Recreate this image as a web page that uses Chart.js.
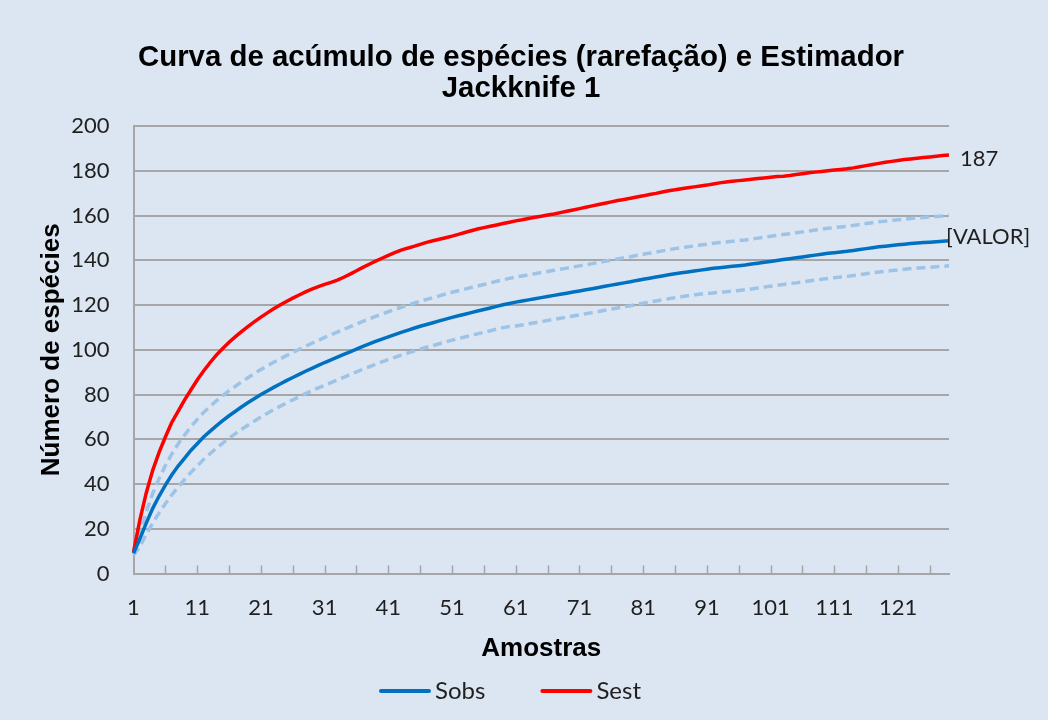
<!DOCTYPE html>
<html>
<head>
<meta charset="utf-8">
<title>Curva de acúmulo de espécies - Jackknife 1</title>
<script src="https://cdn.jsdelivr.net/npm/chart.js@4.4.1/dist/chart.umd.min.js"></script>
<style>
  html, body { margin: 0; padding: 0; background: #dce6f2; }
  canvas { display: block; }
</style>
</head>
<body>
<canvas id="myChart" width="1048" height="720"></canvas>
<script>
// Riqueza observada (Sobs, rarefação) por número de amostras
const sobs = [
  9, 15.5, 22.5, 29, 34.5, 39.5, 44, 48, 51.5, 55,
  58, 61, 63.5, 66, 68.3, 70.5, 72.5, 74.5, 76.4, 78.2,
  80, 81.6, 83.2, 84.7, 86.2, 87.6, 89, 90.4, 91.7, 93,
  94.3, 95.5, 96.7, 97.9, 99.1, 100.3, 101.5, 102.6, 103.7, 104.8,
  105.8, 106.8, 107.8, 108.7, 109.6, 110.5, 111.3, 112.1, 112.9, 113.7,
  114.5, 115.2, 115.9, 116.6, 117.3, 118, 118.7, 119.4, 120.1, 120.7,
  121.3, 121.8, 122.3, 122.8, 123.3, 123.8, 124.3, 124.8, 125.3, 125.8,
  126.3, 126.8, 127.3, 127.8, 128.4, 128.9, 129.4, 129.9, 130.4, 131,
  131.5, 132, 132.5, 133, 133.5, 134, 134.4, 134.8, 135.2, 135.6,
  136, 136.4, 136.7, 137, 137.3, 137.6, 137.9, 138.3, 138.7, 139.1,
  139.5, 139.9, 140.3, 140.7, 141.1, 141.5, 141.9, 142.3, 142.7, 143.1,
  143.4, 143.7, 144, 144.4, 144.8, 145.2, 145.6, 146, 146.3, 146.6,
  146.9, 147.2, 147.5, 147.7, 147.9, 148.1, 148.3, 148.5, 148.7
];

// Riqueza estimada (Jackknife 1)
const sest = [
  9.5, 24, 36, 46, 54, 61, 67.5, 72.5, 77.5, 82,
  86.5, 90.5, 94.2, 97.6, 100.6, 103.4, 105.9, 108.2, 110.5, 112.6,
  114.6, 116.5, 118.3, 120, 121.6, 123.1, 124.5, 125.9, 127.1, 128.2,
  129.2, 130.1, 131.1, 132.4, 133.8, 135.3, 136.8, 138.2, 139.6, 140.9,
  142.2, 143.4, 144.5, 145.4, 146.2, 147.1, 148, 148.7, 149.4, 150.1,
  150.8, 151.6, 152.4, 153.2, 154, 154.6, 155.2, 155.8, 156.4, 157,
  157.6, 158.1, 158.7, 159.2, 159.7, 160.2, 160.7, 161.3, 161.9, 162.5,
  163.1, 163.7, 164.3, 164.9, 165.5, 166.1, 166.7, 167.2, 167.7, 168.3,
  168.8, 169.4, 169.9, 170.5, 171.1, 171.5, 172, 172.4, 172.8, 173.2,
  173.6, 174.1, 174.6, 175, 175.3, 175.6, 175.9, 176.2, 176.5, 176.8,
  177.1, 177.4, 177.6, 177.9, 178.3, 178.7, 179.1, 179.4, 179.7, 180,
  180.3, 180.6, 180.9, 181.3, 181.8, 182.3, 182.8, 183.3, 183.8, 184.2,
  184.6, 185, 185.3, 185.6, 185.9, 186.2, 186.5, 186.8, 187
];

// Intervalo de confiança 95% de Sobs
const sobsSup = [
  10, 18.3, 27.5, 35.7, 42.3, 48.2, 53.4, 57.9, 61.8, 65.6,
  68.8, 72, 74.6, 77.2, 79.5, 81.7, 83.7, 85.7, 87.6, 89.4,
  91.2, 92.8, 94.4, 95.9, 97.4, 98.8, 100.2, 101.6, 102.9, 104.2,
  105.5, 106.7, 107.9, 109.1, 110.3, 111.5, 112.7, 113.8, 114.9, 116,
  117, 118, 119, 119.9, 120.8, 121.7, 122.5, 123.3, 124.1, 124.9,
  125.7, 126.4, 127.1, 127.8, 128.5, 129.2, 129.9, 130.6, 131.3, 131.9,
  132.5, 133, 133.5, 134, 134.5, 135, 135.5, 136, 136.5, 137,
  137.5, 138, 138.5, 139, 139.6, 140.1, 140.6, 141.1, 141.6, 142.2,
  142.7, 143.2, 143.7, 144.2, 144.7, 145.2, 145.6, 146, 146.4, 146.8,
  147.2, 147.6, 147.9, 148.2, 148.5, 148.8, 149.1, 149.5, 149.9, 150.3,
  150.7, 151.1, 151.5, 151.9, 152.3, 152.7, 153.1, 153.5, 153.9, 154.3,
  154.6, 154.9, 155.2, 155.6, 156, 156.4, 156.8, 157.2, 157.5, 157.8,
  158.1, 158.4, 158.7, 158.9, 159.1, 159.4, 159.6, 159.8, 160
];

const sobsInf = [
  8, 12, 17.5, 22.5, 27, 31.2, 35.1, 38.7, 41.9, 45.2,
  48, 51, 53.5, 56, 58.3, 60.5, 62.5, 64.5, 66.4, 68.2,
  70, 71.6, 73.2, 74.7, 76.2, 77.6, 79, 80.4, 81.7, 83,
  84.1, 85.3, 86.5, 87.7, 88.9, 90.1, 91.3, 92.4, 93.5, 94.6,
  95.6, 96.6, 97.6, 98.5, 99.4, 100.3, 101.1, 101.9, 102.7, 103.5,
  104.3, 105, 105.7, 106.4, 107.1, 107.8, 108.5, 109.2, 109.9, 110.4,
  110.6, 111.1, 111.6, 112.1, 112.6, 113.1, 113.6, 114.1, 114.6, 115.1,
  115.6, 116.1, 116.6, 117.1, 117.7, 118.2, 118.7, 119.2, 119.7, 120.3,
  120.8, 121.3, 121.8, 122.3, 122.8, 123.3, 123.7, 124.1, 124.5, 124.9,
  125.1, 125.4, 125.7, 125.9, 126.2, 126.5, 126.8, 127.2, 127.6, 128,
  128.4, 128.8, 129.2, 129.6, 129.9, 130.3, 130.7, 131.1, 131.5, 131.9,
  132.2, 132.5, 132.8, 133.2, 133.6, 134, 134.4, 134.8, 135.1, 135.4,
  135.7, 136, 136.3, 136.5, 136.7, 136.9, 137.1, 137.3, 137.5
];

// amostras 1..n (rótulo a cada 10, marca a cada 5)
const amostras = sobs.map((_, i) => String(i + 1));
const yMin = 0, yMax = 200, yStep = 20;

const textColor = '#1f1f1f';
const gridColor = '#a6a6a6';
const tickFont = { family: 'Lato, sans-serif', size: 22 };
const boldFont = { family: '"Liberation Sans", Arial, sans-serif', size: 26, weight: 'bold', lineHeight: 1.2 };

// marcas do eixo x voltadas para dentro do gráfico
const xTickMarks = {
  id: 'xTickMarks',
  afterDraw(chart) {
    const x = chart.scales.x;
    const ctx = chart.ctx;
    const bottom = chart.chartArea.bottom;
    ctx.save();
    ctx.strokeStyle = gridColor;
    ctx.lineWidth = 1.5;
    for (let i = 5; i < amostras.length; i += 5) {
      const px = Math.round(x.getPixelForValue(i)) + 0.5;
      ctx.beginPath();
      ctx.moveTo(px, bottom);
      ctx.lineTo(px, bottom - 8);
      ctx.stroke();
    }
    ctx.restore();
  }
};

// rótulos no último ponto das séries
const endLabels = {
  id: 'endLabels',
  afterDatasetsDraw(chart) {
    const ctx = chart.ctx;
    ctx.save();
    ctx.font = '22px Lato, sans-serif';
    ctx.fillStyle = textColor;
    ctx.textAlign = 'left';
    ctx.textBaseline = 'middle';

    const estPts = chart.getDatasetMeta(1).data;
    const p = estPts[estPts.length - 1];
    ctx.fillText(String(Math.round(sest[sest.length - 1])), p.x + 11, p.y + 4);

    const obsPts = chart.getDatasetMeta(0).data;
    const q = obsPts[obsPts.length - 1];
    ctx.fillText('[VALOR]', q.x - 3, q.y - 4);
    ctx.restore();
  }
};

// legenda só com Sobs e Sest
const bottomLegend = {
  id: 'bottomLegend',
  afterDraw(chart) {
    const ctx = chart.ctx;
    const items = [chart.data.datasets[0], chart.data.datasets[1]];
    const lineLen = 52, textGap = 4, itemGap = 55, y = 691;
    ctx.save();
    ctx.font = '24px Lato, sans-serif';
    ctx.textBaseline = 'middle';
    ctx.textAlign = 'left';
    const widths = items.map(ds => lineLen + textGap + ctx.measureText(ds.label).width);
    const total = widths.reduce((a, b) => a + b, 0) + itemGap * (items.length - 1);
    let x = 510 - total / 2;
    items.forEach((ds, i) => {
      ctx.strokeStyle = ds.borderColor;
      ctx.lineWidth = 4;
      ctx.lineCap = 'round';
      ctx.beginPath();
      ctx.moveTo(x + 2, y);
      ctx.lineTo(x + lineLen - 2, y);
      ctx.stroke();
      ctx.fillStyle = textColor;
      ctx.fillText(ds.label, x + lineLen + textGap, y);
      x += widths[i] + itemGap;
    });
    ctx.restore();
  }
};

const ctx = document.getElementById('myChart').getContext('2d');

new Chart(ctx, {
  type: 'line',
  data: {
    labels: amostras,
    datasets: [
      { label: 'Sobs', data: sobs, borderColor: '#0070c0', backgroundColor: '#0070c0', borderWidth: 3.5 },
      { label: 'Sest', data: sest, borderColor: '#ff0000', backgroundColor: '#ff0000', borderWidth: 3.5 },
      { label: 'IC 95% superior', data: sobsSup, borderColor: '#9dc3e6', borderDash: [9, 5], borderWidth: 3.5 },
      { label: 'IC 95% inferior', data: sobsInf, borderColor: '#9dc3e6', borderDash: [9, 5], borderWidth: 3.5 }
    ]
  },
  options: {
    responsive: false,
    animation: false,
    elements: {
      point: { radius: 0, hoverRadius: 0 },
      line: { tension: 0, borderCapStyle: 'butt', fill: false }
    },
    layout: { padding: { left: 20, right: 26, top: 0, bottom: 50 } },
    plugins: {
      legend: { display: false },
      tooltip: { enabled: false },
      title: {
        display: true,
        text: ['Curva de acúmulo de espécies (rarefação) e Estimador', 'Jackknife 1'],
        color: '#000',
        font: { family: '"Liberation Sans", Arial, sans-serif', size: 29.4, weight: 'bold', lineHeight: 1.055 },
        padding: { top: 42, bottom: 22 }
      }
    },
    scales: {
      x: {
        type: 'category',
        offset: false,
        grid: { display: false },
        border: { display: true, color: gridColor, width: 2 },
        ticks: {
          autoSkip: false,
          maxRotation: 0,
          minRotation: 0,
          padding: 13,
          color: textColor,
          font: tickFont,
          callback: function (value, index) {
            return index % 10 === 0 ? this.getLabelForValue(value) : '';
          }
        },
        title: { display: true, text: 'Amostras', color: '#000', font: boldFont, padding: { top: 0, bottom: 5.4 } },
        afterFit: (scale) => { scale.height = 96.5; }
      },
      y: {
        min: yMin,
        max: yMax,
        ticks: { stepSize: yStep, padding: 24, color: textColor, font: tickFont },
        grid: { color: gridColor, lineWidth: 2, drawTicks: false },
        border: { display: true, color: gridColor, width: 2 },
        title: { display: true, text: 'Número de espécies', color: '#000', font: boldFont, padding: { top: 16.4, bottom: 0 } },
        afterFit: (scale) => { scale.width = 113.5; }
      },
      // eixo vazio à direita: espaço para os rótulos das séries
      margemDireita: {
        type: 'linear',
        position: 'right',
        display: true,
        grid: { display: false, drawTicks: false },
        border: { display: false },
        ticks: { display: false },
        afterFit: (scale) => { scale.width = 73; }
      }
    }
  },
  plugins: [xTickMarks, endLabels, bottomLegend]
});
</script>
</body>
</html>
